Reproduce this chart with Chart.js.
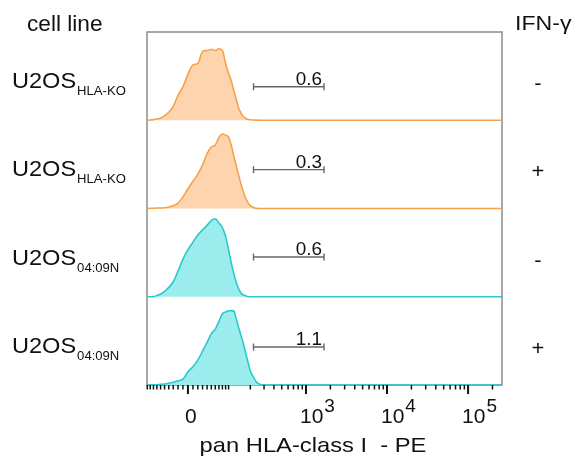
<!DOCTYPE html>
<html lang="en">
<head>
<meta charset="UTF-8">
<title>pan HLA-class I histograms</title>
<script src="https://cdn.jsdelivr.net/npm/chart.js"></script>
<style>
  body { margin: 0; background: #fff; }
  #wrap { width: 576px; height: 462px; }
</style>
</head>
<body>
<div id="wrap"><canvas id="myChart"></canvas></div>
<script>
// panel rows, top to bottom
const cellLines = ['U2OS', 'U2OS', 'U2OS', 'U2OS'];
const cellSubs = ['HLA-KO', 'HLA-KO', '04:09N', '04:09N'];
const ifnG = ['-', '+', '-', '+'];
const gateValues = ['0.6', '0.3', '0.6', '1.1'];

// fluorescence bins (PE intensity) and normalised counts per row
const bins = [-100, -90, -80, -70, -60, -50, -40, -30, -20, -10, 0, 10, 20, 30, 40, 50, 60, 70, 80, 90,
  100, 110, 120, 130, 140, 150, 160, 170, 180, 190, 200, 220, 240, 260, 280, 300, 350, 400, 1000, 262144];
const koMinus = [0, 0.2, 0.7, 1.4, 2.3, 5.1, 9, 15.8, 28.3, 37.9, 52, 62.7, 64.4, 78, 79, 80.5, 79, 81, 79, 64.4,
  53.1, 44.1, 32.8, 22.6, 13.6, 8.5, 4.5, 2.8, 1.4, 0.8, 0.6, 0.3, 0.1, 0, 0, 0, 0, 0, 0, 0];
const koPlus = [0, 0.2, 0.3, 0.5, 0.6, 0.8, 1.7, 3.2, 6.1, 13.2, 22.4, 30.7, 38.9, 49.5, 62.2, 69.6, 71.9, 80.8, 84.5, 83,
  80.8, 71.2, 58.8, 47.5, 37.3, 27.8, 20.3, 13.6, 9, 5.3, 3.2, 1.1, 0.1, 0, 0, 0, 0, 0, 0, 0];
const a0409Minus = [0, 0, 0.1, 1.4, 3.2, 6.2, 10.6, 17, 29, 42.7, 53.3, 61.9, 70.1, 75.9, 80.9, 86.6, 88.4, 83.6, 78.4, 68.5,
  53.1, 37.9, 25.5, 15.5, 8.9, 4.5, 2.3, 1.4, 0.5, 0, 0, 0, 0, 0, 0, 0, 0, 0, 0, 0];
const a0409Plus = [0, 0.1, 0.2, 0.3, 0.7, 1.1, 2, 3.2, 4.7, 6.6, 15, 20.7, 28.5, 38.4, 48.4, 58.1, 63.4, 72.1, 80.7, 82.7,
  84.1, 84.3, 83.6, 74.1, 64.7, 56.2, 48.6, 39.6, 30.8, 23.2, 15.8, 9, 3.4, 1.1, 0.3, 0, 0, 0, 0, 0];
const series = [koMinus, koPlus, a0409Minus, a0409Plus];

// gate (low, high intensity) and the height it is drawn at
const gateRange = [220, 1670];
const gateLevel = [38, 44, 45, 43];

// axis
const xMinVal = -101, xMaxVal = 262144;
const majorTicks = [0, 1000, 10000, 100000];
const majorBase = ['0', '10', '10', '10'];
const majorExp = ['', '3', '4', '5'];
const minorTicks = [-100, -90, -80, -70, -60, -50, -40, -30, -20, -10, 10, 20, 30, 40, 50, 60, 70, 80, 90,
  100, 200, 300, 400, 500, 600, 700, 800, 900,
  2000, 3000, 4000, 5000, 6000, 7000, 8000, 9000,
  20000, 30000, 40000, 50000, 60000, 70000, 80000, 90000, 200000];

const rowColors = [
  { line: '#F9A04B', fill: '#FED4AE' },
  { line: '#F9A04B', fill: '#FED4AE' },
  { line: '#2DC8CC', fill: '#9BECEC' },
  { line: '#2DC8CC', fill: '#9BECEC' }
];

// biexponential-like display transform
const W = 70;
function tf(v) { return Math.asinh(v / W) / Math.LN10; }

const rowSpan = 100;
const datasets = [];
series.forEach((vals, i) => {
  const base = (3 - i) * rowSpan;
  datasets.push({
    data: bins.map((b, k) => ({ x: tf(b), y: base + vals[k] })),
    borderColor: rowColors[i].line,
    backgroundColor: rowColors[i].fill,
    borderWidth: 1.6,
    fill: { value: base },
    pointRadius: 0,
    cubicInterpolationMode: 'monotone',
    clip: 3
  });
});
series.forEach((vals, i) => {
  const base = (3 - i) * rowSpan;
  datasets.push({
    data: gateRange.map(g => ({ x: tf(g), y: base + gateLevel[i] })),
    borderColor: '#666',
    borderWidth: 1.4,
    fill: false,
    pointStyle: 'line',
    pointRotation: 90,
    pointRadius: 3.5,
    pointBorderColor: '#666',
    pointBorderWidth: 1.4,
    clip: 3
  });
});

function txt(ctx, s, x, y, font, sx, align) {
  ctx.save();
  ctx.font = font;
  ctx.translate(x, y);
  ctx.scale(sx, 1);
  ctx.textAlign = align || 'left';
  ctx.textBaseline = 'alphabetic';
  ctx.fillText(s, 0, 0);
  const w = ctx.measureText(s).width * sx;
  ctx.restore();
  return w;
}

const FONT = '"Liberation Sans", Arial, sans-serif';

const facsDecor = {
  id: 'facsDecor',
  beforeDatasetsDraw(chart) {
    const { ctx, chartArea: a } = chart;
    ctx.save();
    ctx.strokeStyle = '#8C8C8C';
    ctx.lineWidth = 1.5;
    ctx.strokeRect(a.left, a.top, a.right - a.left, a.bottom - a.top);
    ctx.restore();
  },
  afterDatasetsDraw(chart) {
    const { ctx, chartArea: a, scales } = chart;
    const x = scales.x, y = scales.y;
    ctx.save();
    ctx.fillStyle = '#111';

    // axis ticks
    ctx.strokeStyle = '#111';
    ctx.lineWidth = 1.5;
    minorTicks.forEach(v => {
      const px = x.getPixelForValue(tf(v));
      ctx.beginPath(); ctx.moveTo(px, a.bottom); ctx.lineTo(px, a.bottom + 4.5); ctx.stroke();
    });
    ctx.lineWidth = 2;
    majorTicks.forEach((v, i) => {
      const px = x.getPixelForValue(tf(v));
      ctx.beginPath(); ctx.moveTo(px, a.bottom); ctx.lineTo(px, a.bottom + 9); ctx.stroke();
      if (majorExp[i]) {
        const w = txt(ctx, majorBase[i], px - 6, a.bottom + 38, '21px ' + FONT, 1, 'left');
        txt(ctx, majorExp[i], px - 6 + w + 1, a.bottom + 27, '19px ' + FONT, 1, 'left');
      } else {
        txt(ctx, majorBase[i], px + 3, a.bottom + 38, '21px ' + FONT, 1, 'center');
      }
    });
    txt(ctx, 'pan HLA-class I  - PE', 313, 452, '21px ' + FONT, 1.13, 'center');

    // gate labels
    series.forEach((vals, i) => {
      const base = (3 - i) * rowSpan;
      const gx = x.getPixelForValue(tf(gateRange[1]));
      const gy = y.getPixelForValue(base + gateLevel[i]);
      txt(ctx, gateValues[i], gx - 2, gy - 2, '18px ' + FONT, 1.05, 'right');
    });

    // row labels
    txt(ctx, 'cell line', 27, 31, '22px ' + FONT, 1.03, 'left');
    txt(ctx, 'IFN-γ', 515, 30, '21px ' + FONT, 1.1, 'left');
    cellLines.forEach((name, i) => {
      const mid = y.getPixelForValue((3 - i) * rowSpan + rowSpan / 2);
      const w = txt(ctx, name, 12, mid + 12, '22px ' + FONT, 1.07, 'left');
      txt(ctx, cellSubs[i], 12 + w + 1, mid + 19, '13.5px ' + FONT, 0.97, 'left');
      txt(ctx, ifnG[i], 538, mid + 14, '20px ' + FONT, 1.1, 'center');
    });
    ctx.restore();
  }
};

const ctx = document.getElementById('myChart');
const facsChart = new Chart(ctx, {
  type: 'line',
  data: { datasets: datasets },
  options: {
    responsive: true,
    maintainAspectRatio: false,
    animation: false,
    layout: { padding: { left: 147, right: 74, top: 32, bottom: 77 } },
    scales: {
      x: { type: 'linear', min: tf(xMinVal), max: tf(xMaxVal), display: false },
      y: { min: 0, max: 4 * rowSpan, display: false }
    },
    plugins: { legend: { display: false }, tooltip: { enabled: false } }
  },
  plugins: [facsDecor]
});
</script>
</body>
</html>
